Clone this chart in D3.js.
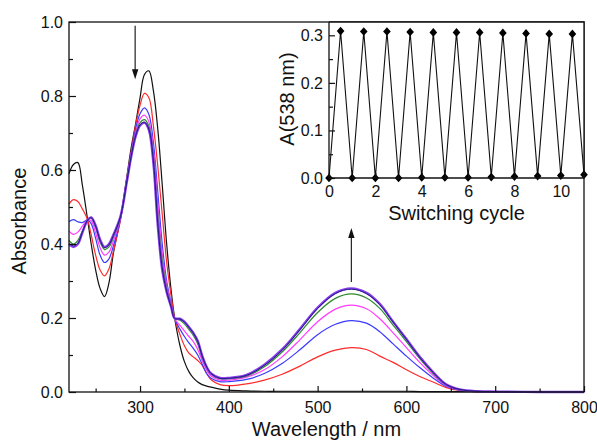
<!DOCTYPE html>
<html>
<head>
<meta charset="utf-8">
<script src="https://cdn.jsdelivr.net/npm/d3@7"></script>
<style>
  body { margin: 0; background: #fff; }
  svg { font-family: Arial, "Liberation Sans", sans-serif; }
</style>
</head>
<body>
<svg id="chart" width="597" height="440"></svg>
<script>
// spectra, one array per scan
const wavelengths = [220, 225, 230, 235, 241, 245, 250, 255, 260, 265, 270, 278, 285, 290, 295, 300, 305, 310, 315, 320,
  325, 330, 335, 339, 345, 350, 355, 360, 365, 370, 375, 380, 390, 400, 420, 440, 460, 480, 500, 520,
  538, 555, 570, 585, 600, 615, 630, 645, 660, 680, 700, 750, 800];

const absBlack = [0.59, 0.615, 0.62, 0.56, 0.465, 0.40, 0.33, 0.28, 0.258, 0.295, 0.375, 0.47, 0.58, 0.66, 0.725, 0.795, 0.858, 0.868, 0.815, 0.71,
  0.56, 0.40, 0.275, 0.20, 0.125, 0.082, 0.055, 0.038, 0.027, 0.02, 0.016, 0.013, 0.008, 0.005, 0.003, 0.002, 0.002, 0.002, 0.002, 0.002,
  0.002, 0.002, 0.002, 0.002, 0.002, 0.001, 0.001, 0.001, 0.001, 0.001, 0.001, 0.0, 0.0];
const absRed = [0.508, 0.52, 0.515, 0.495, 0.465, 0.425, 0.37, 0.33, 0.314, 0.333, 0.38, 0.465, 0.575, 0.65, 0.72, 0.775, 0.807, 0.795, 0.72, 0.61,
  0.48, 0.35, 0.26, 0.20, 0.155, 0.125, 0.105, 0.095, 0.085, 0.072, 0.05, 0.033, 0.02, 0.017, 0.022, 0.032, 0.048, 0.07, 0.095, 0.113,
  0.12, 0.115, 0.097, 0.08, 0.06, 0.042, 0.027, 0.012, 0.004, 0.001, 0.001, 0.0, 0.0];
const absBlue = [0.46, 0.466, 0.46, 0.458, 0.465, 0.455, 0.415, 0.37, 0.35, 0.36, 0.395, 0.468, 0.572, 0.645, 0.71, 0.752, 0.768, 0.75, 0.675, 0.54,
  0.40, 0.30, 0.24, 0.198, 0.17, 0.15, 0.133, 0.118, 0.10, 0.075, 0.05, 0.037, 0.028, 0.028, 0.034, 0.05, 0.077, 0.114, 0.155, 0.183,
  0.193, 0.186, 0.163, 0.13, 0.097, 0.066, 0.038, 0.015, 0.005, 0.001, 0.001, 0.0, 0.0];
const absMagenta = [0.435, 0.426, 0.432, 0.448, 0.465, 0.463, 0.43, 0.39, 0.37, 0.378, 0.408, 0.47, 0.57, 0.64, 0.70, 0.738, 0.748, 0.73, 0.655, 0.51,
  0.375, 0.29, 0.235, 0.198, 0.18, 0.165, 0.15, 0.136, 0.115, 0.085, 0.059, 0.043, 0.032, 0.032, 0.04, 0.06, 0.095, 0.141, 0.19, 0.224,
  0.235, 0.225, 0.198, 0.16, 0.12, 0.08, 0.045, 0.017, 0.006, 0.002, 0.001, 0.0, 0.0];
const absGreen = [0.41, 0.40, 0.41, 0.435, 0.465, 0.47, 0.445, 0.405, 0.385, 0.392, 0.418, 0.472, 0.568, 0.638, 0.695, 0.728, 0.736, 0.718, 0.64, 0.48,
  0.355, 0.28, 0.232, 0.198, 0.194, 0.184, 0.169, 0.153, 0.13, 0.093, 0.065, 0.048, 0.036, 0.036, 0.043, 0.068, 0.108, 0.16, 0.215, 0.253,
  0.265, 0.254, 0.226, 0.181, 0.136, 0.09, 0.05, 0.019, 0.006, 0.002, 0.001, 0.0, 0.0];
const absNavy = [0.402, 0.395, 0.402, 0.432, 0.465, 0.471, 0.448, 0.41, 0.39, 0.398, 0.423, 0.474, 0.567, 0.636, 0.692, 0.722, 0.729, 0.71, 0.625, 0.455,
  0.335, 0.272, 0.23, 0.199, 0.197, 0.189, 0.175, 0.159, 0.137, 0.097, 0.068, 0.05, 0.037, 0.037, 0.045, 0.072, 0.113, 0.168, 0.226, 0.266,
  0.278, 0.266, 0.236, 0.189, 0.142, 0.094, 0.053, 0.02, 0.007, 0.002, 0.001, 0.0, 0.0];
const absViolet = [0.40, 0.392, 0.40, 0.43, 0.465, 0.472, 0.45, 0.412, 0.392, 0.40, 0.425, 0.475, 0.566, 0.635, 0.69, 0.72, 0.728, 0.708, 0.62, 0.45,
  0.33, 0.27, 0.23, 0.199, 0.198, 0.19, 0.176, 0.16, 0.138, 0.098, 0.068, 0.05, 0.038, 0.038, 0.046, 0.074, 0.115, 0.17, 0.228, 0.268,
  0.28, 0.268, 0.238, 0.19, 0.143, 0.095, 0.054, 0.02, 0.007, 0.002, 0.001, 0.0, 0.0];

// inset: absorbance at 538 nm over switching cycles
const cycles = [0, 0.5, 1, 1.5, 2, 2.5, 3, 3.5, 4, 4.5, 5, 5.5, 6, 6.5, 7, 7.5, 8, 8.5, 9, 9.5, 10, 10.5, 11];
const a538 = [0.0, 0.309, 0.0, 0.308, 0.0, 0.308, 0.0, 0.307, 0.001, 0.306, 0.001, 0.306, 0.001, 0.306, 0.002, 0.305,
  0.003, 0.304, 0.004, 0.303, 0.005, 0.303, 0.007];

const xMajor = [300, 400, 500, 600, 700, 800];
const xMinor = [250, 350, 450, 550, 650, 750];
const yMajor = [0, 0.2, 0.4, 0.6, 0.8, 1.0];
const yMinor = [0.1, 0.3, 0.5, 0.7, 0.9];
const insetXMajor = [0, 2, 4, 6, 8, 10];
const insetXMinor = [1, 3, 5, 7, 9];
const insetYMajor = [0, 0.1, 0.2, 0.3];
const insetYMinor = [0.05, 0.15, 0.25];

// arrows: [wavelength, tail absorbance, tip absorbance]
const arrows = [[294.5, 0.99, 0.845], [538, 0.297, 0.443]];

const series = [
  { values: absBlack, color: '#111111', width: 1.2 },
  { values: absRed, color: '#ff2a2a', width: 1.2 },
  { values: absBlue, color: '#3a3aff', width: 1.2 },
  { values: absMagenta, color: '#ff3cff', width: 1.2 },
  { values: absGreen, color: '#2b8a2b', width: 1.2 },
  { values: absViolet, color: '#8a3cf0', width: 2.4 },
  { values: absNavy, color: '#1c1c78', width: 1.0 }
];

const svg = d3.select('#chart');

const x = d3.scaleLinear().domain([220, 800]).range([69, 584]);
const y = d3.scaleLinear().domain([0, 1]).range([392, 22]);

const line = d3.line()
  .x(d => x(d[0]))
  .y(d => y(d[1]))
  .curve(d3.curveCatmullRom.alpha(0.5));

const plot = svg.append('g');

series.forEach(s => {
  plot.append('path')
    .datum(wavelengths.map((w, i) => [w, s.values[i]]))
    .attr('fill', 'none')
    .attr('stroke', s.color)
    .attr('stroke-width', s.width)
    .attr('stroke-linejoin', 'round')
    .attr('d', line);
});

// arrows
arrows.forEach(a => {
  const ax = x(a[0]), y0 = y(a[1]), y1 = y(a[2]);
  const dir = y1 > y0 ? 1 : -1;
  svg.append('line')
    .attr('x1', ax).attr('x2', ax)
    .attr('y1', y0).attr('y2', y1 - dir * 8)
    .attr('stroke', '#222').attr('stroke-width', 1.2);
  svg.append('path')
    .attr('d', `M${ax},${y1}L${ax - 3.2},${y1 - dir * 10}L${ax + 3.2},${y1 - dir * 10}Z`)
    .attr('fill', '#111');
});

function styleAxis(g) {
  g.select('.domain').remove();
  g.selectAll('.tick line').attr('stroke', '#111').attr('stroke-width', 1.2);
  g.selectAll('.tick text').attr('fill', '#111').style('font-size', '16px');
}

// main axes, ticks pointing inward
svg.append('g')
  .attr('transform', 'translate(0,392)')
  .call(d3.axisBottom(x).tickValues(xMajor).tickSize(-6).tickPadding(9.5).tickFormat(d3.format('d')))
  .call(styleAxis);
svg.append('g')
  .attr('transform', 'translate(0,392)')
  .call(d3.axisBottom(x).tickValues(xMinor).tickSize(-3.5).tickFormat(''))
  .call(styleAxis);
svg.append('g')
  .attr('transform', 'translate(69,0)')
  .call(d3.axisLeft(y).tickValues(yMajor).tickSize(-7).tickPadding(6).tickFormat(d3.format('.1f')))
  .call(styleAxis);
svg.append('g')
  .attr('transform', 'translate(69,0)')
  .call(d3.axisLeft(y).tickValues(yMinor).tickSize(-4).tickFormat(''))
  .call(styleAxis);

svg.append('rect')
  .attr('x', x.range()[0]).attr('y', y.range()[1])
  .attr('width', x.range()[1] - x.range()[0])
  .attr('height', y.range()[0] - y.range()[1])
  .attr('fill', 'none').attr('stroke', '#111').attr('stroke-width', 1.3);

svg.append('text')
  .attr('x', (x.range()[0] + x.range()[1]) / 2).attr('y', 436)
  .attr('text-anchor', 'middle')
  .style('font-size', '20px').attr('fill', '#111')
  .text('Wavelength / nm');
svg.append('text')
  .attr('transform', 'translate(26,221) rotate(-90)')
  .attr('text-anchor', 'middle')
  .style('font-size', '20px').attr('fill', '#111')
  .text('Absorbance');

// inset
const xi = d3.scaleLinear().domain([0, 11]).range([329, 584]);
const yi = d3.scaleLinear().domain([0, 0.328]).range([178, 22]);

const inset = svg.append('g');
inset.append('rect')
  .attr('x', xi.range()[0]).attr('y', yi.range()[1])
  .attr('width', xi.range()[1] - xi.range()[0])
  .attr('height', yi.range()[0] - yi.range()[1])
  .attr('fill', '#fff');

inset.append('path')
  .datum(cycles.map((c, i) => [c, a538[i]]))
  .attr('fill', 'none')
  .attr('stroke', '#111')
  .attr('stroke-width', 1.1)
  .attr('d', d3.line().x(d => xi(d[0])).y(d => yi(d[1])));

inset.selectAll('.marker')
  .data(cycles.map((c, i) => [c, a538[i]]))
  .enter().append('path')
  .attr('class', 'marker')
  .attr('transform', d => `translate(${xi(d[0])},${yi(d[1])}) scale(0.88,1)`)
  .attr('d', d3.symbol(d3.symbolDiamond2, 48))
  .attr('fill', '#000');

inset.append('g')
  .attr('transform', 'translate(0,178)')
  .call(d3.axisBottom(xi).tickValues(insetXMajor).tickSize(-5).tickPadding(8).tickFormat(d3.format('d')))
  .call(styleAxis);
inset.append('g')
  .attr('transform', 'translate(0,178)')
  .call(d3.axisBottom(xi).tickValues(insetXMinor).tickSize(-3).tickFormat(''))
  .call(styleAxis);
inset.append('g')
  .attr('transform', 'translate(329,0)')
  .call(d3.axisLeft(yi).tickValues(insetYMajor).tickSize(-6).tickPadding(6).tickFormat(d3.format('.1f')))
  .call(styleAxis);
inset.append('g')
  .attr('transform', 'translate(329,0)')
  .call(d3.axisLeft(yi).tickValues(insetYMinor).tickSize(-4).tickFormat(''))
  .call(styleAxis);

inset.append('line')
  .attr('x1', xi.range()[0]).attr('x2', xi.range()[1])
  .attr('y1', yi.range()[0]).attr('y2', yi.range()[0])
  .attr('stroke', '#111').attr('stroke-width', 1.3);
inset.append('line')
  .attr('x1', xi.range()[0]).attr('x2', xi.range()[0])
  .attr('y1', yi.range()[0]).attr('y2', yi.range()[1])
  .attr('stroke', '#111').attr('stroke-width', 1.3);
// redraw shared frame edges over the inset background
inset.append('path')
  .attr('d', `M${xi.range()[0]},${yi.range()[1]}H${xi.range()[1]}V${yi.range()[0]}`)
  .attr('fill', 'none').attr('stroke', '#111').attr('stroke-width', 1.3);

inset.append('text')
  .attr('x', (xi.range()[0] + xi.range()[1]) / 2).attr('y', 220)
  .attr('text-anchor', 'middle')
  .style('font-size', '20px').attr('fill', '#111')
  .text('Switching cycle');
inset.append('text')
  .attr('transform', 'translate(294,99) rotate(-90)')
  .attr('text-anchor', 'middle')
  .style('font-size', '20px').attr('fill', '#111')
  .text('A(538 nm)');
</script>
</body>
</html>
